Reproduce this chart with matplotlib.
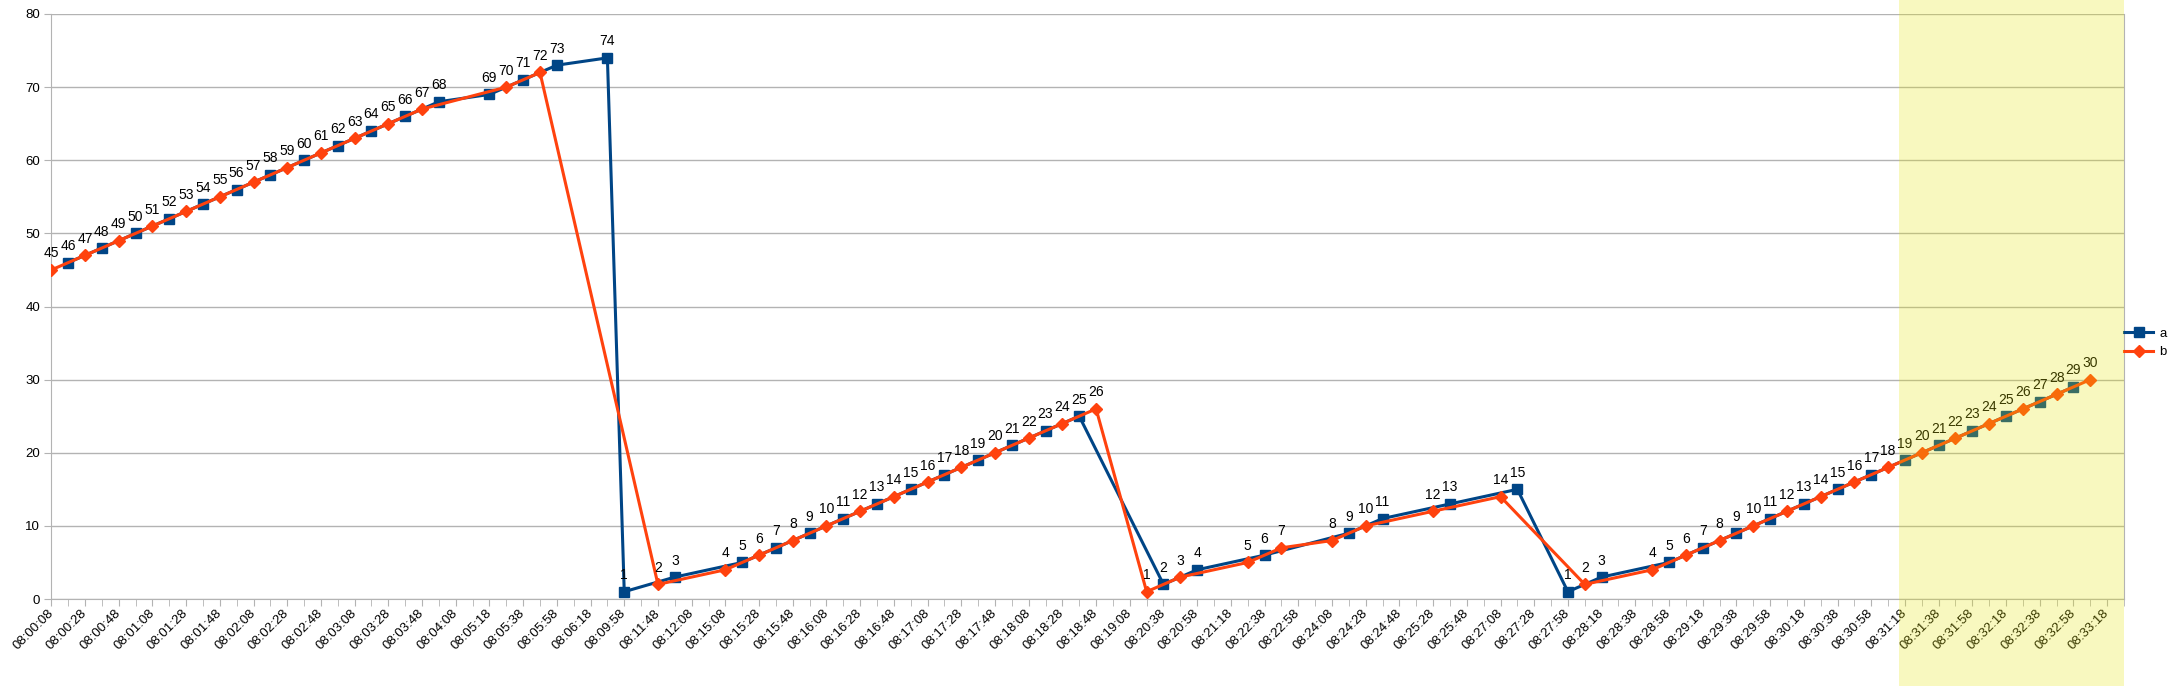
import matplotlib
matplotlib.use('Agg')
import matplotlib.pyplot as plt
from matplotlib.patches import Rectangle
from matplotlib.transforms import blended_transform_factory

# category labels (shown on every second category)
tick_labels = ['08:00:08', '08:00:28', '08:00:48', '08:01:08', '08:01:28', '08:01:48',
               '08:02:08', '08:02:28', '08:02:48', '08:03:08', '08:03:28', '08:03:48',
               '08:04:08', '08:05:18', '08:05:38', '08:05:58', '08:06:18', '08:09:58',
               '08:11:48', '08:12:08', '08:15:08', '08:15:28', '08:15:48', '08:16:08',
               '08:16:28', '08:16:48', '08:17:08', '08:17:28', '08:17:48', '08:18:08',
               '08:18:28', '08:18:48', '08:19:08', '08:20:38', '08:20:58', '08:21:18',
               '08:22:38', '08:22:58', '08:24:08', '08:24:28', '08:24:48', '08:25:28',
               '08:25:48', '08:27:08', '08:27:28', '08:27:58', '08:28:18', '08:28:38',
               '08:28:58', '08:29:18', '08:29:38', '08:29:58', '08:30:18', '08:30:38',
               '08:30:58', '08:31:18', '08:31:38', '08:31:58', '08:32:18', '08:32:38',
               '08:32:58', '08:33:18']
n_categories = 124

# series a: category index -> value
a_idx = [1, 3, 5, 7, 9, 11, 13, 15, 17, 19, 21, 23, 26, 28, 30, 33,
         34, 37, 41, 43, 45, 47, 49, 51, 53, 55, 57, 59, 61,
         66, 68, 72, 77, 79, 83, 87,
         90, 92, 96, 98, 100, 102, 104, 106, 108, 110, 112, 114, 116, 118, 120]
a_vals = [46, 48, 50, 52, 54, 56, 58, 60, 62, 64, 66, 68, 69, 71, 73, 74,
          1, 3, 5, 7, 9, 11, 13, 15, 17, 19, 21, 23, 25,
          2, 4, 6, 9, 11, 13, 15,
          1, 3, 5, 7, 9, 11, 13, 15, 17, 19, 21, 23, 25, 27, 29]

# series b
b_idx = [0, 2, 4, 6, 8, 10, 12, 14, 16, 18, 20, 22, 27, 29,
         36, 40, 42, 44, 46, 48, 50, 52, 54, 56, 58, 60, 62,
         65, 67, 71, 73, 76, 78, 82, 86,
         91, 95, 97, 99, 101, 103, 105, 107, 109, 111, 113, 115, 117, 119, 121]
b_vals = [45, 47, 49, 51, 53, 55, 57, 59, 61, 63, 65, 67, 70, 72,
          2, 4, 6, 8, 10, 12, 14, 16, 18, 20, 22, 24, 26,
          1, 3, 5, 7, 8, 10, 12, 14,
          2, 4, 6, 8, 10, 12, 14, 16, 18, 20, 22, 24, 26, 28, 30]

# highlighted range of categories
highlight_start = 109.65
highlight_end = 123

plt.rcParams['font.family'] = ['Liberation Sans', 'DejaVu Sans']
grey = '#b3b3b3'

fig = plt.figure(figsize=(21.74, 6.86), dpi=100)
ax = fig.add_axes([0.0236, 0.1268, 0.9534, 0.8528])

ax.plot(a_idx, a_vals, color='#004586', lw=2.2, marker='s', markersize=6.5,
        label='a', zorder=3)
ax.plot(b_idx, b_vals, color='#ff420e', lw=2.2, marker='D', markersize=6,
        label='b', zorder=4)

# data labels
for x, y in list(zip(a_idx, a_vals)) + list(zip(b_idx, b_vals)):
    ax.annotate(str(y), (x, y), xytext=(0, 9), textcoords='offset points',
                ha='center', va='baseline', fontsize=10, zorder=5)

ax.set_xlim(0, n_categories - 1)
ax.set_ylim(0, 80)
ax.set_yticks(range(0, 81, 10))

ax.set_xticks(range(0, n_categories - 1, 2))
ax.set_xticklabels(tick_labels, rotation=45, ha='right', va='center',
                   rotation_mode='anchor', fontsize=9.5)
ax.set_xticks(range(1, n_categories, 2), minor=True)
ax.tick_params(axis='x', which='both', length=5, color=grey, pad=4)
ax.tick_params(axis='y', length=5, color=grey, labelsize=9.5, pad=3)

ax.grid(axis='y', color=grey, lw=1)
ax.set_axisbelow(True)
for side in ['left', 'bottom', 'right']:
    ax.spines[side].set_color(grey)
ax.spines['top'].set_visible(False)

ax.legend(loc='center left', bbox_to_anchor=(1.0, 0.4376), frameon=False,
          borderpad=0, borderaxespad=0, handlelength=2.2, handletextpad=0.5,
          labelspacing=0.45, fontsize=9.5)

# yellow overlay over the last categories
trans = blended_transform_factory(ax.transData, fig.transFigure)
rect = Rectangle((highlight_start, 0), highlight_end - highlight_start, 1,
                 transform=trans, facecolor='#e6e600', alpha=0.25,
                 edgecolor='none', zorder=10)
fig.add_artist(rect)

fig.savefig('out.png', dpi=100)
